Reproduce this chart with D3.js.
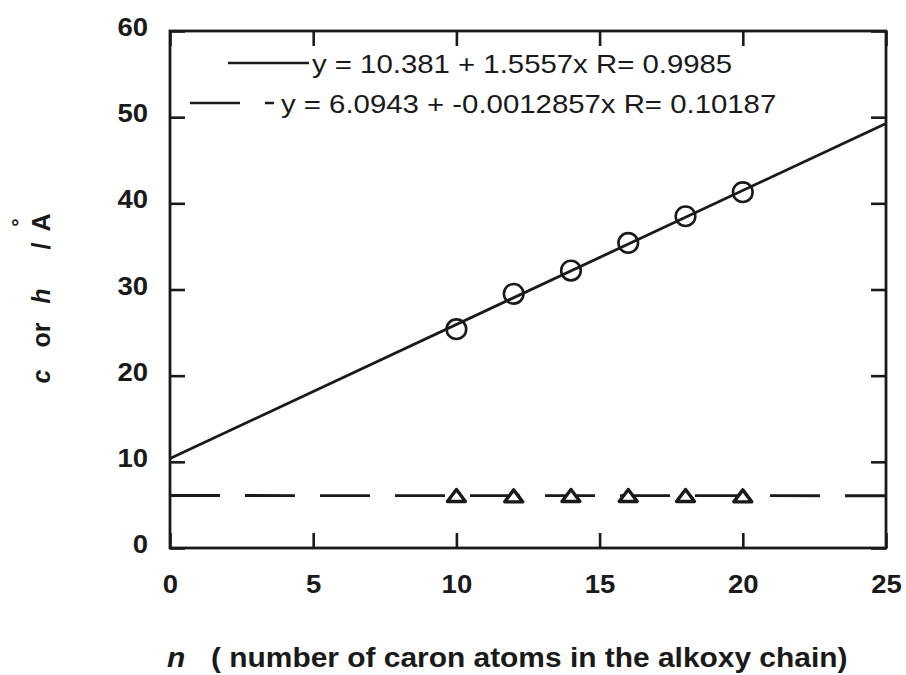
<!DOCTYPE html>
<html>
<head>
<meta charset="utf-8">
<script src="https://cdn.jsdelivr.net/npm/d3@7/dist/d3.min.js"></script>
<style>
  body { margin: 0; background: #fff; }
  text { font-family: "Liberation Sans", Arial, sans-serif; fill: #1a1a1a; }
</style>
</head>
<body>
<svg id="chart" width="906" height="675"></svg>
<script>

// Data

var nValues = [10, 12, 14, 16, 18, 20],
	cValues = [25.4, 29.5, 32.2, 35.4, 38.5, 41.3],
	hValues = [6.1, 6.05, 6.1, 6.1, 6.1, 6.05],
	xTicks = [0, 5, 10, 15, 20, 25],
	yTicks = [0, 10, 20, 30, 40, 50, 60],
	fitC = [10.381, 1.5557],
	fitH = [6.0943, -0.0012857],
	legendLabels = ['y = 10.381 + 1.5557x R= 0.9985', 'y = 6.0943 + -0.0012857x R= 0.10187'];

var ink = '#1a1a1a',
	stretch = 'scale(1.1,1)',
	svg = d3.select('#chart'),
	x = d3.scaleLinear().domain([0, 25]).range([170, 886]),
	y = d3.scaleLinear().domain([0, 60]).range([548, 31]);

// Axes (inward ticks on all four sides)

function styleAxis(g) {
	g.select('.domain').remove();
	g.selectAll('.tick line').attr('stroke', ink).attr('stroke-width', 2.6);
}

svg.append('g')
	.attr('transform', 'translate(170,0)')
	.call(d3.axisLeft(y).tickValues(yTicks).tickSize(-15))
	.call(styleAxis)
	.selectAll('.tick text')
		.attr('x', null).attr('dy', null)
		.attr('text-anchor', 'end')
		.attr('transform', 'translate(-22,4.5) ' + stretch)
		.style('font-size', '25px').style('font-weight', 'bold')
		.style('font-family', '"Liberation Sans", Arial, sans-serif').attr('fill', ink);

svg.append('g')
	.attr('transform', 'translate(886,0)')
	.call(d3.axisRight(y).tickValues(yTicks).tickSize(-15).tickFormat(''))
	.call(styleAxis);

svg.append('g')
	.attr('transform', 'translate(0,548)')
	.call(d3.axisBottom(x).tickValues(xTicks).tickSize(-15))
	.call(styleAxis)
	.selectAll('.tick text')
		.attr('y', null).attr('dy', null)
		.attr('text-anchor', 'middle')
		.attr('transform', 'translate(0,45) ' + stretch)
		.style('font-size', '25px').style('font-weight', 'bold')
		.style('font-family', '"Liberation Sans", Arial, sans-serif').attr('fill', ink);

svg.append('g')
	.attr('transform', 'translate(0,31)')
	.call(d3.axisTop(x).tickValues(xTicks).tickSize(-15).tickFormat(''))
	.call(styleAxis);

svg.append('rect')
	.attr('x', x(0)).attr('y', y(60))
	.attr('width', x(25) - x(0)).attr('height', y(0) - y(60))
	.attr('fill', 'none').attr('stroke', ink).attr('stroke-width', 2.8);

// Fit lines

var fitLine = d3.line()
	.x(function(d) { return x(d[0]); })
	.y(function(d) { return y(d[1]); });

function fitPoints(f) {
	return x.domain().map(function(n) { return [n, f[0] + f[1] * n]; });
}

svg.append('path')
	.attr('d', fitLine(fitPoints(fitC)))
	.attr('fill', 'none').attr('stroke', ink).attr('stroke-width', 2.8);

svg.append('path')
	.attr('d', fitLine(fitPoints(fitH)))
	.attr('fill', 'none').attr('stroke', ink).attr('stroke-width', 2.8)
	.attr('stroke-dasharray', '50,25');

// Markers

svg.append('g').selectAll('circle')
	.data(nValues)
	.enter()
	.append('circle')
	.attr('cx', function(d) { return x(d); })
	.attr('cy', function(d, i) { return y(cValues[i]); })
	.attr('r', 9.8)
	.attr('fill', 'none').attr('stroke', ink).attr('stroke-width', 2.6);

svg.append('g').selectAll('path')
	.data(nValues)
	.enter()
	.append('path')
	.attr('d', 'M0,-6L9,6L-9,6Z')
	.attr('transform', function(d, i) { return 'translate(' + x(d) + ',' + y(hValues[i]) + ')'; })
	.attr('fill', '#fff').attr('stroke', ink).attr('stroke-width', 3.4)
	.attr('stroke-linejoin', 'round');

// Legend

var legendRows = [
	{seg: [228, 309], segY: 63, textX: 312, textY: 73, dash: null},
	{seg: [190, 274], segY: 103, textX: 281, textY: 113, dash: '50,25'}
];

legendRows.forEach(function(r, i) {
	svg.append('line')
		.attr('x1', r.seg[0]).attr('x2', r.seg[1])
		.attr('y1', r.segY).attr('y2', r.segY)
		.attr('stroke', ink).attr('stroke-width', 2.6)
		.attr('stroke-dasharray', r.dash);
	svg.append('text')
		.attr('transform', 'translate(' + r.textX + ',' + r.textY + ') ' + stretch)
		.style('font-size', '26.7px')
		.text(legendLabels[i]);
});

// Axis titles

var xTitle = svg.append('g')
	.attr('transform', 'translate(167,667) ' + stretch)
	.style('font-size', '27.2px').style('font-weight', 'bold');
xTitle.append('text').style('font-style', 'italic').text('n');
xTitle.append('text').attr('x', 40).text('( number of caron atoms in the alkoxy chain)');

var yTitle = svg.append('g')
	.attr('transform', 'translate(50,0) rotate(-90)')
	.style('font-size', '25px').style('font-weight', 'bold')
	.attr('text-anchor', 'middle');
yTitle.append('text').attr('x', -376.5).style('font-style', 'italic').text('c');
yTitle.append('text').attr('x', -335).text('or');
yTitle.append('text').attr('x', -296).style('font-style', 'italic').text('h');
yTitle.append('text').attr('x', -246).text('/');
yTitle.append('text').attr('x', -222.5).text('A');
yTitle.append('text').attr('x', -222.5).attr('y', -24)
	.style('font-size', '21px').text('°');

</script>
</body>
</html>
